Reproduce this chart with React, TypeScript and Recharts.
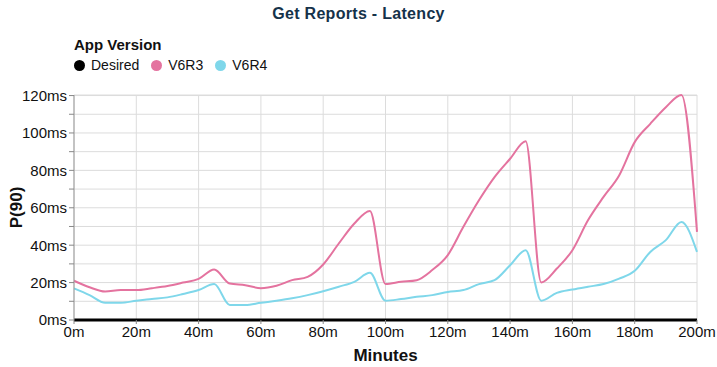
import { CartesianGrid, Line, LineChart, XAxis, YAxis } from 'recharts'

const MINUTES = [
  0, 5, 10, 15, 20, 25, 30, 35, 40, 45, 50, 55, 60, 65, 70, 75, 80, 85, 90, 95, 100,
  105, 110, 115, 120, 125, 130, 135, 140, 145, 150, 155, 160, 165, 170, 175, 180, 185, 190, 195, 200,
]
const DESIRED = [
  0, 0, 0, 0, 0, 0, 0, 0, 0, 0, 0, 0, 0, 0, 0, 0, 0, 0, 0, 0, 0,
  0, 0, 0, 0, 0, 0, 0, 0, 0, 0, 0, 0, 0, 0, 0, 0, 0, 0, 0, 0,
]
const V6R3 = [
  21, 17.5, 15.2, 16, 16, 17, 18.2, 20, 22, 27, 19.5, 18.6, 17, 18.3, 21.3, 23.1, 29.7, 40.9, 51.6, 58.3, 19.2,
  20.4, 21.3, 26.7, 34.7, 49.8, 64, 76.4, 86.2, 95.6, 20.1, 27.5, 37.3, 53.3, 65.8, 77.3, 95.1, 104.9, 113.8, 120.3, 47.1,
]
const V6R4 = [
  16.9, 13.3, 9.2, 9.2, 10.3, 11.2, 12.1, 13.9, 16, 19.2, 8, 8, 9.2, 10.3, 11.6, 13.3, 15.4, 17.8, 20.4, 25.2, 10.3,
  11.2, 12.4, 13.3, 15, 16, 19.2, 21.3, 29.3, 37.3, 10.3, 14.5, 16.3, 17.8, 19.2, 22.1, 26.3, 36.4, 42.7, 52.4, 36.4,
]
const X_TICKS = [0, 20, 40, 60, 80, 100, 120, 140, 160, 180, 200]
const Y_TICKS = [0, 10, 20, 30, 40, 50, 60, 70, 80, 90, 100, 110, 120]

const SERIES = [
  { key: 'desired', name: 'Desired', color: '#000000' },
  { key: 'v6r3', name: 'V6R3', color: '#e4739f' },
  { key: 'v6r4', name: 'V6R4', color: '#7fd7ea' },
]

const data = MINUTES.map((m, i) => ({ minute: m, desired: DESIRED[i], v6r3: V6R3[i], v6r4: V6R4[i] }))

const FONT = '"Liberation Sans", Arial, sans-serif'
const tick = { fontSize: 15, fill: '#111', fontFamily: FONT }
const axisTitle = { fontSize: 17, fontWeight: 700, fill: '#111', fontFamily: FONT }

function LegendBlock() {
  return (
    <div style={{ position: 'absolute', left: 74, top: 36, fontFamily: FONT, color: '#111' }}>
      <div style={{ fontWeight: 700, fontSize: 15, lineHeight: '18px' }}>App Version</div>
      <div style={{ display: 'flex', alignItems: 'center', fontSize: 14, lineHeight: '18px', marginTop: 2 }}>
        {SERIES.map((s) => (
          <span key={s.key} style={{ display: 'flex', alignItems: 'center', marginRight: 12 }}>
            <span
              style={{ width: 11, height: 11, borderRadius: 6, background: s.color, marginRight: 6, display: 'inline-block' }}
            />
            {s.name}
          </span>
        ))}
      </div>
    </div>
  )
}

export default function App() {
  return (
    <div style={{ position: 'absolute', left: 0, top: 0, width: 717, height: 367, background: '#fff' }}>
      <div
        style={{
          position: 'absolute',
          top: 5,
          width: 717,
          textAlign: 'center',
          fontFamily: FONT,
          fontWeight: 700,
          fontSize: 16,
          color: '#15324a',
          letterSpacing: 0.3,
        }}
      >
        Get Reports - Latency
      </div>
      <LegendBlock />
      <LineChart width={717} height={367} data={data} margin={{ top: 95, right: 20, bottom: 17, left: 0 }}>
        <CartesianGrid stroke="#dcdcdc" strokeWidth={1} />
        <XAxis
          dataKey="minute"
          type="number"
          domain={[0, 200]}
          ticks={X_TICKS}
          tickFormatter={(v: number) => `${v}m`}
          tick={tick}
          tickLine={{ stroke: '#888' }}
          tickSize={4}
          axisLine={false}
          interval={0}
          label={{
            content: ({ viewBox }: any) => (
              <text
                x={viewBox.x + viewBox.width / 2}
                y={viewBox.y + 35}
                textAnchor="middle"
                dominantBaseline="central"
                style={axisTitle}
              >
                Minutes
              </text>
            ),
          }}
        />
        <YAxis
          domain={[0, 120]}
          ticks={Y_TICKS}
          interval={0}
          width={74}
          tickFormatter={(v: number) => (v % 20 === 0 ? `${v}ms` : '')}
          tick={tick}
          tickLine={{ stroke: '#888' }}
          tickSize={5}
          axisLine={{ stroke: '#999' }}
          label={{
            content: ({ viewBox }: any) => (
              <text
                x={16}
                y={viewBox.y + viewBox.height / 2}
                transform={`rotate(-90 16 ${viewBox.y + viewBox.height / 2})`}
                textAnchor="middle"
                dominantBaseline="central"
                style={axisTitle}
              >
                P(90)
              </text>
            ),
          }}
        />
        <Line dataKey="v6r3" name="V6R3" type="monotone" stroke="#e4739f" strokeWidth={2} dot={false} isAnimationActive={false} />
        <Line dataKey="v6r4" name="V6R4" type="monotone" stroke="#7fd7ea" strokeWidth={2} dot={false} isAnimationActive={false} />
        <Line dataKey="desired" name="Desired" type="linear" stroke="#000" strokeWidth={3} dot={false} isAnimationActive={false} />
      </LineChart>
    </div>
  )
}
